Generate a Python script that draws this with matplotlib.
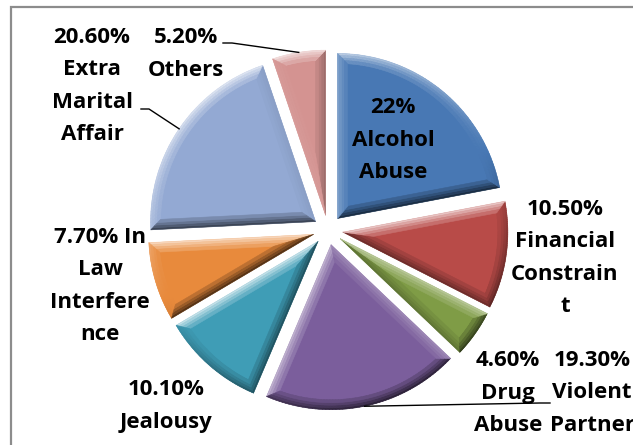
import numpy as np
import matplotlib
matplotlib.use("Agg")
import matplotlib.pyplot as plt
from matplotlib.collections import PolyCollection
from matplotlib.patches import Rectangle
from matplotlib.colors import to_rgb

# --- data -------------------------------------------------------------
categories = ["Alcohol Abuse", "Financial Constraint", "Drug Abuse", "Violent Partner",
              "Jealousy", "In Law Interference", "Extra Marital Affair", "Others"]
values = [22.0, 10.5, 4.6, 19.3, 10.1, 7.7, 20.6, 5.2]
label_texts = ["22%\nAlcohol\nAbuse",
               "10.50%\nFinancial\nConstrain\nt",
               "4.60%\nDrug\nAbuse",
               "19.30%\nViolent\nPartner",
               "10.10%\nJealousy",
               "7.70% In\nLaw\nInterfere\nnce",
               "20.60%\nExtra\nMarital\nAffair",
               "5.20%\nOthers"]
colors = ["#4878B4", "#B84B48", "#7F9C46", "#7B5E9C",
          "#3F9DB6", "#E88A3C", "#93A9D3", "#D49391"]

W, H = 633, 445
fig = plt.figure(figsize=(W / 100, H / 100), dpi=100)
ax = fig.add_axes([0, 0, 1, 1])

center = (328, 215)
radius = 165
wedges, _ = ax.pie(values, colors=colors, startangle=90, counterclock=False,
                   explode=[15] * len(values), radius=radius, center=center,
                   wedgeprops=dict(linewidth=0))
ax.set_xlim(0, W)
ax.set_ylim(0, H)
ax.set_aspect("equal")
ax.axis("off")


def mix(c, target, t):
    c = np.array(to_rgb(c))
    return tuple(c + (np.array(target) - c) * t)


def wedge_outline(cx, cy, r, t1, t2, d, n=60):
    """Outline of a wedge inset by distance d (tip + arc points)."""
    a = (t2 - t1) / 2
    m = (t1 + t2) / 2
    tip = np.array([cx, cy]) + (d / np.sin(a)) * np.array([np.cos(m), np.sin(m)])
    rr = r - d
    delta = np.arcsin(d / rr) if d > 0 else 0.0
    ang = np.linspace(t1 + delta, t2 - delta, n)
    arc = np.column_stack([cx + rr * np.cos(ang), cy + rr * np.sin(ang)])
    return np.vstack([tip, arc])


# bevelled rim: strips shaded by how much each edge faces the light
light = np.array([-0.45, 1.0])
light /= np.linalg.norm(light)
insets = [0, 2, 4.5, 7, 10]
strength = [0.85, 0.65, 0.45, 0.25]

for w, col in zip(wedges, colors):
    cx, cy = w.center
    t1, t2 = np.radians(w.theta1), np.radians(w.theta2)
    outlines = [wedge_outline(cx, cy, w.r, t1, t2, d) for d in insets]
    polys, fcs = [], []
    for j in range(len(insets) - 1):
        o, i_ = outlines[j], outlines[j + 1]
        n = len(o)
        for k in range(n):
            k2 = (k + 1) % n
            seg = o[k2] - o[k]
            nrm = np.array([seg[1], -seg[0]])
            nrm /= np.linalg.norm(nrm)
            s = float(np.dot(nrm, light))
            if s > 0:
                fc = mix(col, (1, 1, 1), s * strength[j] * 0.8)
            else:
                fc = mix(col, (0, 0, 0), -s * strength[j] * 0.75)
            polys.append([o[k], o[k2], i_[k2], i_[k]])
            fcs.append(fc)
    ax.add_collection(PolyCollection(polys, facecolors=fcs, edgecolors=fcs,
                                     linewidths=0.4, zorder=3))

# --- labels -----------------------------------------------------------
def img(x, y):
    return x, H - y

label_pos = [(393, 140), (565, 258), (508, 393), (592, 393),
             (166, 406), (100, 286), (92, 86), (186, 54)]
for txt, (x, y) in zip(label_texts, label_pos):
    ax.text(*img(x, y), txt, ha="center", va="center", multialignment="center",
            fontsize=16, fontweight="bold", family=["Open Sans", "DejaVu Sans"],
            linespacing=1.7, color="black", zorder=5)

# leader lines: from label side to the arc at each slice's mid angle
leaders = {7: [(223, 43), (232, 43)],
           6: [(141, 109), (149, 109)],
           3: [(550, 403), (540, 403)]}
for idx, pts in leaders.items():
    w = wedges[idx]
    mid = np.radians((w.theta1 + w.theta2) / 2)
    end = (w.center[0] + w.r * np.cos(mid), w.center[1] + w.r * np.sin(mid))
    xs = [img(*p)[0] for p in pts] + [end[0]]
    ys = [img(*p)[1] for p in pts] + [end[1]]
    ax.plot(xs, ys, color="black", lw=1.0, zorder=4)

# chart frame
ax.add_patch(Rectangle((11, -10), W, H - 7 + 10, fill=False,
                       edgecolor="#8c8c8c", linewidth=1.6, zorder=6))

fig.savefig("out.png", dpi=100)
